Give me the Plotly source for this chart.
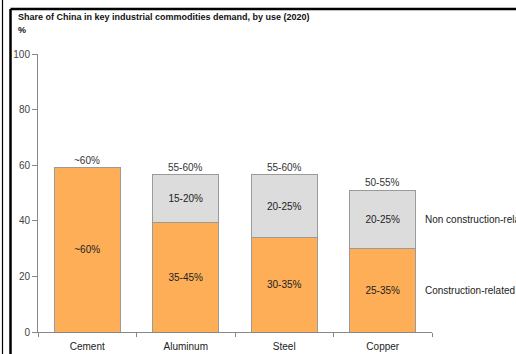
import plotly.graph_objects as go

categories = ["Cement", "Aluminum", "Steel", "Copper"]
construction = [59, 39.5, 34, 30]
non_construction = [0, 17, 22.5, 21]
construction_labels = ["~60%", "35-45%", "30-35%", "25-35%"]
non_construction_labels = ["", "15-20%", "20-25%", "20-25%"]
total_labels = ["~60%", "55-60%", "55-60%", "50-55%"]
series_names = ["Construction-related", "Non construction-related"]
title_text = "Share of China in key industrial commodities demand, by use (2020)"

FONT = "Liberation Sans Narrow, Liberation Sans, Arial, sans-serif"
ORANGE = "#FDAE57"
GREY = "#DCDCDC"
EDGE = "#9A9A9A"

fig = go.Figure()
fig.add_trace(go.Bar(
    x=categories, y=construction, name=series_names[0],
    marker=dict(color=ORANGE, line=dict(color=EDGE, width=1)),
    text=construction_labels, textposition="inside", insidetextanchor="middle",
    textangle=0, constraintext="none",
    textfont=dict(color="#222", size=10, family=FONT), width=0.67,
))
fig.add_trace(go.Bar(
    x=categories, y=non_construction, name=series_names[1],
    marker=dict(color=GREY, line=dict(color=EDGE, width=1)),
    text=non_construction_labels, textposition="inside", insidetextanchor="middle",
    textangle=0, constraintext="none",
    textfont=dict(color="#222", size=10, family=FONT), width=0.67,
))

annotations = []
for c, a, b, t in zip(categories, construction, non_construction, total_labels):
    annotations.append(dict(x=c, y=a + b, text=t, xref="x", yref="y", showarrow=False,
                            yanchor="bottom", yshift=0,
                            font=dict(size=10, color="#333", family=FONT)))
annotations.append(dict(x=categories[-1], y=construction[-1] / 2, text=series_names[0],
                        xref="x", yref="y", showarrow=False, xanchor="left", xshift=40,
                        font=dict(size=10, color="#222", family=FONT)))
annotations.append(dict(x=categories[-1], y=construction[-1] + non_construction[-1] / 2,
                        text=series_names[1], xref="x", yref="y", showarrow=False,
                        xanchor="left", xshift=40,
                        font=dict(size=10, color="#222", family=FONT)))
annotations.append(dict(x=-22 / 394, y=(331.7 - 17) / 277.3, xref="paper", yref="paper",
                        text="<b>" + title_text + "</b>", showarrow=False,
                        xanchor="left", yanchor="middle",
                        font=dict(size=9, color="#111", family=FONT)))
annotations.append(dict(x=-22 / 394, y=(331.7 - 30) / 277.3, xref="paper", yref="paper",
                        text="<b>%</b>", showarrow=False, xanchor="left", yanchor="middle",
                        font=dict(size=9, color="#111", family=FONT)))

def px_x(p):
    return (p - 38) / 394

def px_y(p):
    return (331.7 - p) / 277.3

shapes = [
    dict(type="line", xref="paper", yref="paper", x0=px_x(10.5), x1=px_x(516),
         y0=px_y(9.5), y1=px_y(9.5), line=dict(color="#000", width=2.5)),
    dict(type="line", xref="paper", yref="paper", x0=px_x(10.5), x1=px_x(10.5),
         y0=px_y(9.5), y1=px_y(354), line=dict(color="#000", width=2.5)),
    dict(type="line", xref="paper", yref="paper", x0=px_x(2.5), x1=px_x(2.5),
         y0=px_y(0), y1=px_y(354), line=dict(color="#000", width=1.2)),
]

fig.update_layout(
    barmode="stack", width=516, height=354, autosize=False,
    margin=dict(l=38, r=84, t=54.3, b=22.3, autoexpand=False),
    paper_bgcolor="white", plot_bgcolor="white",
    showlegend=False, annotations=annotations, shapes=shapes,
    font=dict(family=FONT, size=10, color="#333"),
)
fig.update_xaxes(range=[-0.5, len(categories) - 0.5], autorange=False,
                 showline=True, linecolor="#888", linewidth=1, ticks="outside",
                 tickson="boundaries", ticklen=4, tickcolor="#888", automargin=False,
                 ticklabelstandoff=5,
                 tickfont=dict(size=10, color="#222", family=FONT), showgrid=False)
fig.update_yaxes(range=[0, 100], autorange=False, dtick=20, showline=True,
                 linecolor="#888", linewidth=1,
                 ticks="outside", ticklen=5, tickcolor="#888", showgrid=False,
                 automargin=False,
                 zeroline=False, tickfont=dict(size=10, color="#444", family=FONT))

fig.write_html("out.html", config={"displayModeBar": False},
               post_script="document.body.style.margin='0';document.body.style.overflow='hidden';")
